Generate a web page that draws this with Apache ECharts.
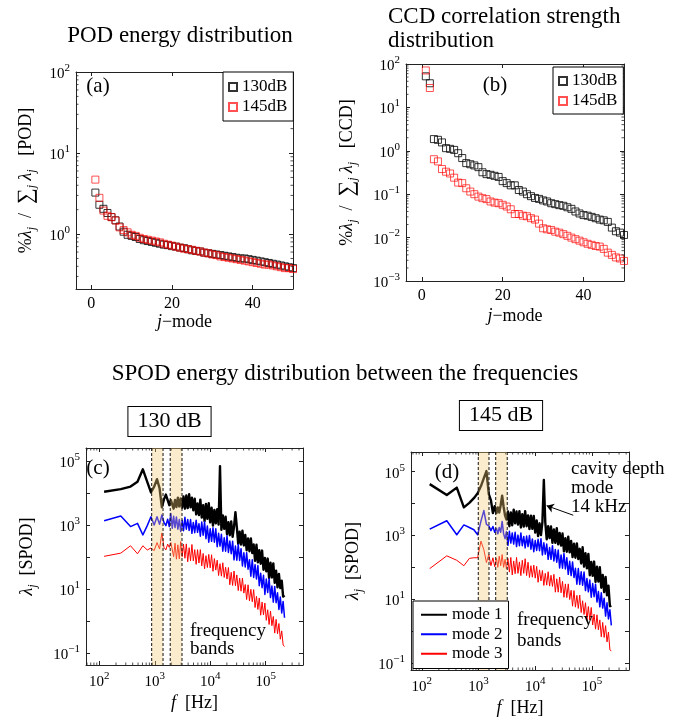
<!DOCTYPE html>
<html>
<head>
<meta charset="utf-8">
<script src="https://cdn.jsdelivr.net/npm/echarts@6/dist/echarts.min.js"></script>
<style>
html, body { margin: 0; padding: 0; background: #fff; }
#chart { width: 680px; height: 717px; }
</style>
</head>
<body>
<div id="chart"></div>
<script>
// ---------- (a) POD energy share per mode, % ----------
const jMode = [1, 2, 3, 4, 5, 6, 7, 8, 9, 10, 11, 12, 13, 14, 15, 16, 17, 18, 19, 20,
  21, 22, 23, 24, 25, 26, 27, 28, 29, 30, 31, 32, 33, 34, 35, 36, 37, 38, 39, 40,
  41, 42, 43, 44, 45, 46, 47, 48, 49, 50];
const pod130 = [3.25, 2.3, 2.05, 1.82, 1.62, 1.48, 1.24, 1.07, 0.98, 0.95,
  0.92, 0.87, 0.84, 0.82, 0.80, 0.78, 0.76, 0.74, 0.73, 0.71,
  0.70, 0.68, 0.67, 0.65, 0.63, 0.62, 0.61, 0.59, 0.58, 0.57,
  0.56, 0.55, 0.54, 0.53, 0.52, 0.51, 0.50, 0.50, 0.49, 0.48,
  0.47, 0.46, 0.45, 0.44, 0.43, 0.42, 0.41, 0.40, 0.39, 0.38];
const pod145 = [4.7, 2.8, 1.95, 1.68, 1.62, 1.47, 1.21, 1.12, 1.05, 0.98,
  0.95, 0.90, 0.87, 0.85, 0.83, 0.81, 0.79, 0.76, 0.74, 0.72,
  0.70, 0.68, 0.66, 0.65, 0.64, 0.62, 0.61, 0.59, 0.58, 0.56,
  0.55, 0.53, 0.52, 0.51, 0.50, 0.49, 0.48, 0.47, 0.46, 0.45,
  0.44, 0.43, 0.42, 0.42, 0.41, 0.40, 0.39, 0.38, 0.38, 0.37];

// ---------- (b) CCD correlation strength per mode, % ----------
const ccd130 = [52, 36, 1.86, 1.79, 1.56, 1.15, 1.11, 1.05, 0.88, 0.68,
  0.52, 0.49, 0.46, 0.42, 0.32, 0.29, 0.28, 0.265, 0.25, 0.20,
  0.18, 0.16, 0.16, 0.125, 0.115, 0.10, 0.09, 0.082, 0.078, 0.072,
  0.068, 0.062, 0.059, 0.056, 0.054, 0.050, 0.046, 0.040, 0.036, 0.033,
  0.032, 0.030, 0.028, 0.026, 0.025, 0.023, 0.017, 0.014, 0.013, 0.0115];
const ccd145 = [71, 28, 0.64, 0.57, 0.38, 0.33, 0.30, 0.24, 0.185, 0.18,
  0.137, 0.115, 0.10, 0.088, 0.081, 0.077, 0.068, 0.064, 0.062, 0.057,
  0.052, 0.045, 0.035, 0.035, 0.032, 0.031, 0.028, 0.026, 0.021, 0.0164,
  0.0155, 0.015, 0.0137, 0.013, 0.012, 0.011, 0.010, 0.0092, 0.0085, 0.0078,
  0.0072, 0.0068, 0.0064, 0.0062, 0.0055, 0.0045, 0.0040, 0.0035, 0.0033, 0.0029];

// ---------- (c)/(d) SPOD spectra ----------
// frequency bins [Hz]: low-frequency bins of each case, then the common upper range
const freqLow130 = [122, 244, 366, 488, 610, 732, 854, 976, 1098, 1220, 1342, 1464, 1586, 1708, 1830, 1952];
const freqLow145 = [138, 276, 414, 552, 690, 828, 966, 1104, 1242, 1380, 1518, 1656, 1794, 1932];
const freqHigh = [2070, 2190, 2320, 2460, 2610, 2770, 2940, 3110, 3300, 3500,
  3710, 3930, 4170, 4420, 4680, 4960, 5260, 5580, 5910, 6270,
  6640, 7040, 7460, 7910, 8390, 8890, 9420, 9990, 10590, 11220,
  11900, 12610, 13370, 14170, 15020, 15920, 16880, 17890, 18960, 20100,
  21310, 22590, 23940, 25380, 26900, 28510, 30220, 32040, 33960, 36000,
  38160, 40450, 42870, 45450, 48170, 51060, 54130, 57380, 60820, 64470,
  68340, 72440, 76780, 81390, 86270, 91450, 96940, 102800, 108900, 115500,
  122400, 129700, 137500, 145800, 154500, 163800, 173600, 184000, 195100, 206800,
  219200];

// eigenvalues listed as log10(lambda), low bins followed by the upper range
const spod130Mode1Low = [4.04, 4.12, 4.20, 4.35, 4.74, 4.35, 4.02, 4.20, 4.43, 4.15, 3.55, 3.80, 3.95, 4.00, 3.62, 3.78];
const spod130Mode1High = [3.82, 3.51, 3.78, 3.56, 3.85, 3.58, 3.83, 3.54, 3.89, 3.51,
  3.92, 3.53, 3.96, 3.55, 3.85, 3.46, 3.82, 3.33, 3.67, 3.31,
  3.79, 3.23, 3.62, 3.12, 3.66, 3.19, 3.68, 3.08, 3.54, 2.98,
  3.47, 3.05, 3.49, 3.01, 4.84, 2.85, 3.30, 2.88, 3.26, 2.71,
  3.09, 2.68, 3.11, 2.63, 2.95, 3.40, 2.93, 2.41, 2.79, 2.39,
  2.82, 2.36, 2.69, 2.21, 2.58, 2.18, 2.58, 2.12, 2.39, 1.88,
  2.38, 1.83, 2.21, 1.79, 2.20, 1.60, 1.97, 1.55, 1.95, 1.34,
  1.82, 1.36, 1.80, 1.19, 1.57, 1.05, 1.47, 1.03, 1.26, 0.76,
  0.80];
const spod130Mode2Low = [3.13, 3.28, 2.95, 3.05, 2.69, 2.98, 3.26, 3.00, 3.26, 3.02, 3.31, 3.08, 2.98, 3.18, 2.95, 3.36];
const spod130Mode2High = [2.90, 3.27, 2.92, 3.25, 2.87, 3.17, 2.80, 3.15, 2.82, 3.24,
  2.87, 3.17, 2.83, 3.17, 2.74, 3.08, 2.76, 3.15, 2.77, 3.04,
  2.65, 3.09, 2.68, 3.10, 2.57, 2.97, 2.46, 2.88, 2.49, 2.91,
  2.46, 2.88, 2.32, 2.74, 2.34, 2.71, 2.18, 2.60, 2.18, 2.66,
  2.14, 2.50, 2.10, 2.49, 1.91, 2.34, 1.90, 2.39, 1.89, 2.26,
  1.72, 2.13, 1.69, 2.13, 1.62, 1.91, 1.40, 1.91, 1.36, 1.76,
  1.31, 1.73, 1.10, 1.49, 1.04, 1.43, 0.83, 1.31, 0.89, 1.32,
  0.73, 1.09, 0.59, 1.08, 0.57, 0.88, 0.36, 0.75, 0.25, 0.61,
  0.10];
const spod130Mode3Low = [2.02, 2.12, 2.35, 2.10, 2.35, 2.22, 2.28, 2.20, 2.45, 2.25, 2.75, 2.30, 2.22, 2.40, 2.30, 2.45];
const spod130Mode3High = [2.51, 2.01, 2.43, 1.93, 2.38, 1.94, 2.48, 2.01, 2.40, 1.96,
  2.41, 1.85, 2.29, 1.88, 2.39, 1.88, 2.23, 1.77, 2.23, 1.81,
  2.23, 1.72, 2.11, 1.63, 2.04, 1.67, 2.08, 1.66, 2.07, 1.55,
  1.95, 1.59, 1.90, 1.42, 1.79, 1.40, 1.82, 1.36, 1.68, 1.31,
  1.67, 1.13, 1.52, 1.11, 1.56, 1.10, 1.44, 0.95, 1.34, 0.93,
  1.34, 0.87, 1.14, 0.67, 1.13, 0.63, 0.99, 0.60, 0.98, 0.42,
  0.77, 0.36, 0.72, 0.18, 0.59, 0.19, 0.56, 0.02, 0.35, -0.11,
  0.31, -0.15, 0.14, -0.38, 0.05, -0.40, -0.08, -0.57, -0.31, -0.75,
  -0.80];

const spod145Mode1Low = [4.61, 4.27, 4.50, 3.88, 4.02, 4.17, 4.32, 4.55, 4.80, 5.02, 4.30, 4.10, 3.70, 3.92];
const spod145Mode1High = [3.70, 3.88, 3.72, 3.95, 4.25, 3.90, 3.62, 3.50, 3.75, 3.29,
  3.72, 3.32, 3.81, 3.38, 3.75, 3.34, 3.76, 3.25, 3.67, 3.28,
  3.76, 3.29, 3.63, 3.20, 3.62, 3.21, 3.61, 3.09, 3.47, 2.98,
  3.38, 3.01, 3.42, 4.74, 3.41, 2.88, 3.29, 2.92, 3.28, 2.77,
  3.19, 2.77, 3.23, 2.72, 3.08, 2.68, 3.06, 2.50, 2.91, 2.49,
  2.96, 2.47, 2.83, 2.32, 2.74, 2.30, 2.75, 2.26, 2.58, 2.12,
  2.63, 2.02, 2.44, 1.97, 2.42, 1.75, 2.17, 1.73, 2.18, 1.54,
  2.02, 1.55, 2.00, 1.36, 1.76, 1.22, 1.70, 1.12, 1.42, 0.78,
  0.80];
const spod145Mode2Low = [3.20, 3.46, 3.02, 3.33, 3.25, 3.18, 3.02, 3.45, 3.78, 3.35, 3.30, 3.15, 3.28, 3.10];
const spod145Mode2High = [3.22, 3.05, 3.25, 3.10, 3.44, 3.05, 2.90, 3.12, 2.69, 3.13,
  2.76, 3.08, 2.73, 3.10, 2.65, 3.01, 2.68, 3.08, 2.68, 2.97,
  2.61, 2.98, 2.65, 3.00, 2.57, 2.89, 2.49, 2.84, 2.53, 2.88,
  2.52, 2.90, 2.39, 2.77, 2.41, 2.73, 2.25, 2.62, 2.25, 2.68,
  2.20, 2.56, 2.16, 2.54, 1.98, 2.39, 1.97, 2.43, 1.95, 2.30,
  1.78, 2.19, 1.74, 2.17, 1.68, 1.97, 1.47, 1.96, 1.46, 1.86,
  1.44, 1.85, 1.27, 1.65, 1.23, 1.60, 1.06, 1.49, 1.08, 1.47,
  0.91, 1.24, 0.76, 1.20, 0.72, 1.03, 0.47, 0.89, 0.38, 0.67,
  0.18];
const spod145Mode3Low = [1.96, 2.36, 2.22, 2.05, 2.28, 2.30, 2.30, 2.82, 2.55, 2.15, 2.40, 2.05, 2.30, 2.02];
const spod145Mode3High = [2.28, 2.00, 2.35, 2.05, 2.40, 2.00, 2.25, 1.95, 2.28, 1.85,
  2.31, 1.76, 2.20, 1.80, 2.31, 1.81, 2.17, 1.74, 2.22, 1.81,
  2.27, 1.74, 2.16, 1.68, 2.05, 1.69, 2.07, 1.66, 2.03, 1.53,
  1.92, 1.57, 1.90, 1.43, 1.81, 1.44, 1.86, 1.41, 1.75, 1.40,
  1.78, 1.22, 1.64, 1.22, 1.69, 1.20, 1.56, 1.06, 1.48, 1.05,
  1.48, 0.99, 1.28, 0.78, 1.27, 0.75, 1.12, 0.71, 1.13, 0.58,
  0.95, 0.52, 0.89, 0.34, 0.77, 0.34, 0.74, 0.19, 0.53, 0.06,
  0.51, 0.04, 0.35, -0.18, 0.27, -0.20, 0.17, -0.34, -0.03, -0.59,
  -0.62];

// frequency bands [Hz] highlighted in the spectra
const bands130 = [[880, 1410], [1900, 3100]];
const bands145 = [[990, 1530], [2010, 3210]];
// arrow pointing at the cavity depth mode peak: [tail, head] as [f, lambda]
const cavityArrow = [[46800, 4300], [15900, 8600]];

// minor tick values of the logarithmic axes
const minorTicksPOD = [0.3, 0.4, 0.5, 0.6, 0.7, 0.8, 0.9, 2, 3, 4, 5, 6, 7, 8, 9, 20, 30, 40, 50, 60, 70, 80, 90];
const minorTicksCCD = [0.002, 0.003, 0.004, 0.005, 0.006, 0.007, 0.008, 0.009,
  0.02, 0.03, 0.04, 0.05, 0.06, 0.07, 0.08, 0.09,
  0.2, 0.3, 0.4, 0.5, 0.6, 0.7, 0.8, 0.9,
  2, 3, 4, 5, 6, 7, 8, 9, 20, 30, 40, 50, 60, 70, 80, 90];
const minorTicksFreq = [60, 70, 80, 90, 200, 300, 400, 500, 600, 700, 800, 900,
  2000, 3000, 4000, 5000, 6000, 7000, 8000, 9000,
  20000, 30000, 40000, 50000, 60000, 70000, 80000, 90000,
  200000, 300000, 400000];

// ---------- helpers ----------
const FONT = 'Liberation Serif';
const AXIS_COLOR = '#222';

function pairs(xs, ys) { return xs.map((x, i) => [x, ys[i]]); }
function spectrum(freq, logValues) { return freq.map((f, i) => [f, Math.pow(10, logValues[i])]); }

const labelRich = {
  b: { fontFamily: FONT, fontSize: 15, color: '#000', lineHeight: 19, verticalAlign: 'bottom' },
  s: { fontFamily: FONT, fontSize: 11, color: '#000', lineHeight: 11, verticalAlign: 'top' }
};
const nameRich = {
  n: { fontFamily: FONT, fontSize: 18, color: '#000', lineHeight: 24, verticalAlign: 'middle' },
  i: { fontFamily: FONT, fontSize: 18, fontStyle: 'italic', color: '#000', lineHeight: 24, verticalAlign: 'middle' },
  big: { fontFamily: FONT, fontSize: 22, color: '#000', lineHeight: 24, verticalAlign: 'middle' },
  sub: { fontFamily: FONT, fontSize: 12, fontStyle: 'italic', color: '#000', lineHeight: 12, verticalAlign: 'bottom', padding: [7, 0, 0, 0] }
};

function decadeLabel(onlyOdd) {
  return function (v) {
    const e = Math.log10(v);
    const r = Math.round(e);
    if (Math.abs(e - r) > 1e-6) return '';
    if (onlyOdd && Math.abs(r % 2) !== 1) return '';
    return '{b|10}{s|' + (r < 0 ? '\u2212' + (-r) : r) + '}';
  };
}

const tickStyle = { inside: true, length: 4, lineStyle: { color: AXIS_COLOR, width: 1 } };
const lineAxis = { show: true, onZero: false, lineStyle: { color: AXIS_COLOR, width: 1 } };

function xAxes(grid, type, min, max, name, nameGap) {
  const base = { gridIndex: grid, type: type, min: min, max: max, splitLine: { show: false },
    axisLine: lineAxis, axisTick: tickStyle };
  if (type === 'value') base.splitNumber = 3;
  if (type === 'log') base.logBase = 10;
  const bottom = Object.assign({}, base, {
    position: 'bottom',
    name: name, nameLocation: 'middle', nameGap: nameGap,
    nameTextStyle: { rich: nameRich },
    axisLabel: type === 'log'
      ? { margin: 6, formatter: decadeLabel(false), rich: labelRich }
      : { margin: 7, fontFamily: FONT, fontSize: 16, color: '#000', formatter: v => (Math.abs(v % 20) < 1e-9 ? String(v) : '') }
  });
  const top = Object.assign({}, base, { position: 'top', axisLabel: { show: false } });
  return [bottom, top];
}

function yAxes(grid, min, max, name, nameGap, onlyOdd) {
  const base = { gridIndex: grid, type: 'log', logBase: 10, min: min, max: max, splitLine: { show: false },
    axisLine: lineAxis, axisTick: tickStyle };
  const left = Object.assign({}, base, {
    position: 'left',
    name: name, nameLocation: 'middle', nameGap: nameGap, nameRotate: 90,
    nameTextStyle: { rich: nameRich },
    axisLabel: { margin: 6, formatter: decadeLabel(onlyOdd), rich: labelRich }
  });
  const right = Object.assign({}, base, { position: 'right', axisLabel: { show: false } });
  return [left, right];
}

// short ticks drawn on both opposite edges of a grid at given axis values
function minorTicks(dir) {
  return function (params, api) {
    const cs = params.coordSys;
    const p = api.coord([api.value(0), api.value(1)]);
    const L = 2.5;
    const st = { stroke: AXIS_COLOR, lineWidth: 0.8 };
    if (dir === 'y') {
      const y = p[1];
      if (y < cs.y - 0.5 || y > cs.y + cs.height + 0.5) return null;
      return { type: 'group', children: [
        { type: 'line', shape: { x1: cs.x, y1: y, x2: cs.x + L, y2: y }, style: st },
        { type: 'line', shape: { x1: cs.x + cs.width - L, y1: y, x2: cs.x + cs.width, y2: y }, style: st }
      ] };
    }
    const x = p[0];
    if (x < cs.x - 0.5 || x > cs.x + cs.width + 0.5) return null;
    return { type: 'group', children: [
      { type: 'line', shape: { x1: x, y1: cs.y + cs.height, x2: x, y2: cs.y + cs.height - L }, style: st },
      { type: 'line', shape: { x1: x, y1: cs.y, x2: x, y2: cs.y + L }, style: st }
    ] };
  };
}

// shaded frequency band with dashed borders over the full grid height
function bandItem(params, api) {
  const cs = params.coordSys;
  const x1 = api.coord([api.value(0), 1])[0];
  const x2 = api.coord([api.value(1), 1])[0];
  const dash = { stroke: '#111', lineWidth: 1, lineDash: [3, 2] };
  return { type: 'group', children: [
    { type: 'rect', shape: { x: x1, y: cs.y, width: x2 - x1, height: cs.height }, style: { fill: 'rgba(243,202,120,0.36)' } },
    { type: 'line', shape: { x1: x1, y1: cs.y, x2: x1, y2: cs.y + cs.height }, style: dash },
    { type: 'line', shape: { x1: x2, y1: cs.y, x2: x2, y2: cs.y + cs.height }, style: dash }
  ] };
}

function squares(name, color, xi, yi, data) {
  return { type: 'scatter', name: name, xAxisIndex: xi, yAxisIndex: yi, data: data,
    symbol: 'rect', symbolSize: 7, z: 3,
    itemStyle: { color: 'rgba(0,0,0,0)', borderColor: color, borderWidth: 1 } };
}

function specLine(name, color, width, xi, yi, data, extra) {
  return Object.assign({ type: 'line', name: name, xAxisIndex: xi, yAxisIndex: yi, data: data,
    symbol: 'none', showSymbol: false, z: 2, color: color,
    lineStyle: { color: color, width: width, join: 'round' } }, extra || {});
}

const freq130 = freqLow130.concat(freqHigh);
const freq145 = freqLow145.concat(freqHigh);

const xNameJ = '{i|j}{n|\u2212mode}';
const xNameF = '{i|f}{n|  [Hz]}';
const yNamePOD = '{n|%}{i|\u03bb}{sub|j}{n|  /  }{big|\u2211}{sub|j}{n| }{i|\u03bb}{sub|j}{n|   [POD]}';
const yNameCCD = '{n|%}{i|\u03bb}{sub|j}{n|  /  }{big|\u2211}{sub|j}{n| }{i|\u03bb}{sub|j}{n|   [CCD]}';
const yNameSPOD = '{i|\u03bb}{sub|j}{n|  [SPOD]}';

const legendBox = { orient: 'vertical', z: 10, borderColor: '#000', borderWidth: 1, backgroundColor: '#fff' };

const textStyle = (size, align, vAlign, extra) => Object.assign({
  font: size + 'px "Liberation Serif"', fill: '#000',
  align: align, verticalAlign: vAlign, textAlign: align, textVerticalAlign: vAlign
}, extra || {});

const option = {
  animation: false,
  backgroundColor: '#fff',
  tooltip: { show: false },
  grid: [
    { left: 76, top: 72, width: 217, height: 217, outerBoundsMode: 'none' },
    { left: 406, top: 64, width: 218, height: 217, outerBoundsMode: 'none' },
    { left: 86, top: 448, width: 217, height: 217, outerBoundsMode: 'none' },
    { left: 411, top: 452, width: 218, height: 218, outerBoundsMode: 'none' }
  ],
  xAxis: [].concat(
    xAxes(0, 'value', -3.8, 50, xNameJ, 21),
    xAxes(1, 'value', -3.9, 50, xNameJ, 23),
    xAxes(2, 'log', 57.5, 472000, xNameF, 26),
    xAxes(3, 'log', 64.6, 449000, xNameF, 26)
  ),
  yAxis: [].concat(
    yAxes(0, 0.21, 100, yNamePOD, 38, false),
    yAxes(1, 0.001, 100, yNameCCD, 47, false),
    yAxes(2, 0.042, 255000, yNameSPOD, 47, true),
    yAxes(3, 0.060, 415000, yNameSPOD, 46, true)
  ),
  legend: [
    Object.assign({}, legendBox, { data: ['130dB', '145dB'], left: 223, top: 72,
      itemWidth: 8, itemHeight: 8, itemGap: 2, padding: [6, 6, 5, 5],
      textStyle: { fontFamily: FONT, fontSize: 17, lineHeight: 18, color: '#000' } }),
    Object.assign({}, legendBox, { data: ['130dB', '145dB'], left: 553, top: 67,
      itemWidth: 8, itemHeight: 8, itemGap: 2, padding: [5, 6, 4, 5],
      textStyle: { fontFamily: FONT, fontSize: 17, lineHeight: 18, color: '#000' } }),
    Object.assign({}, legendBox, { data: ['mode 1', 'mode 2', 'mode 3'], left: 413, top: 601,
      itemWidth: 26, itemHeight: 4, itemGap: 0, padding: [4, 6, 5, 7],
      itemStyle: { opacity: 0 },
      textStyle: { fontFamily: FONT, fontSize: 17, lineHeight: 19.5, color: '#000' } })
  ],
  series: [
    squares('130dB', '#000', 0, 0, pairs(jMode, pod130)),
    squares('145dB', 'rgba(255,0,0,0.85)', 0, 0, pairs(jMode, pod145)),
    squares('130dB', '#000', 2, 2, pairs(jMode, ccd130)),
    squares('145dB', 'rgba(255,0,0,0.85)', 2, 2, pairs(jMode, ccd145)),

    specLine('mode 1', '#000', 2.4, 4, 4, spectrum(freq130, spod130Mode1Low.concat(spod130Mode1High))),
    specLine('mode 2', '#0000ff', 1.5, 4, 4, spectrum(freq130, spod130Mode2Low.concat(spod130Mode2High))),
    specLine('mode 3', '#ff0000', 1.0, 4, 4, spectrum(freq130, spod130Mode3Low.concat(spod130Mode3High))),

    specLine('mode 1', '#000', 2.4, 6, 6, spectrum(freq145, spod145Mode1Low.concat(spod145Mode1High)), {
      markLine: {
        silent: true, symbol: ['none', 'arrow'], symbolSize: 7, animation: false,
        label: { show: false },
        lineStyle: { color: '#000', width: 1, type: 'solid' },
        emphasis: { disabled: true },
        data: [[{ coord: cavityArrow[0] }, { coord: cavityArrow[1] }]]
      }
    }),
    specLine('mode 2', '#0000ff', 1.5, 6, 6, spectrum(freq145, spod145Mode2Low.concat(spod145Mode2High))),
    specLine('mode 3', '#ff0000', 1.0, 6, 6, spectrum(freq145, spod145Mode3Low.concat(spod145Mode3High))),

    { type: 'custom', xAxisIndex: 4, yAxisIndex: 4, z: 5, silent: true, renderItem: bandItem, data: bands130 },
    { type: 'custom', xAxisIndex: 6, yAxisIndex: 6, z: 5, silent: true, renderItem: bandItem, data: bands145 },

    { type: 'custom', xAxisIndex: 0, yAxisIndex: 0, z: 4, silent: true, renderItem: minorTicks('y'), data: minorTicksPOD.map(v => [10, v]) },
    { type: 'custom', xAxisIndex: 2, yAxisIndex: 2, z: 4, silent: true, renderItem: minorTicks('y'), data: minorTicksCCD.map(v => [10, v]) },
    { type: 'custom', xAxisIndex: 4, yAxisIndex: 4, z: 4, silent: true, renderItem: minorTicks('x'), data: minorTicksFreq.map(v => [v, 1]) },
    { type: 'custom', xAxisIndex: 6, yAxisIndex: 6, z: 4, silent: true, renderItem: minorTicks('x'), data: minorTicksFreq.map(v => [v, 1]) }
  ],
  graphic: [
    { type: 'text', x: 180, y: 36, z: 20, style: textStyle(23, 'center', 'middle', { text: 'POD energy distribution' }) },
    { type: 'text', x: 388, y: 5, z: 20, style: textStyle(23, 'left', 'top', { text: 'CCD correlation strength\ndistribution', lineHeight: 24 }) },
    { type: 'text', x: 345, y: 374, z: 20, style: textStyle(23, 'center', 'middle', { text: 'SPOD energy distribution between the frequencies' }) },
    { type: 'text', x: 169.5, y: 421.5, z: 20, style: textStyle(22, 'center', 'middle', { text: '130 dB', padding: [4, 9, 3, 9], borderColor: '#000', borderWidth: 1, backgroundColor: '#fff' }) },
    { type: 'text', x: 501, y: 415.5, z: 20, style: textStyle(22, 'center', 'middle', { text: '145 dB', padding: [4, 9, 3, 9], borderColor: '#000', borderWidth: 1, backgroundColor: '#fff' }) },
    { type: 'text', x: 98, y: 86, z: 20, style: textStyle(21, 'center', 'middle', { text: '(a)' }) },
    { type: 'text', x: 495, y: 85, z: 20, style: textStyle(21, 'center', 'middle', { text: '(b)' }) },
    { type: 'text', x: 98, y: 468, z: 20, style: textStyle(21, 'center', 'middle', { text: '(c)' }) },
    { type: 'text', x: 447, y: 472, z: 20, style: textStyle(21, 'center', 'middle', { text: '(d)' }) },
    { type: 'text', x: 190, y: 621.5, z: 20, style: textStyle(19, 'left', 'top', { text: 'frequency\nbands', lineHeight: 18.5 }) },
    { type: 'text', x: 517, y: 609.5, z: 20, style: textStyle(19, 'left', 'top', { text: 'frequency\nbands', lineHeight: 20.7 }) },
    { type: 'text', x: 571, y: 459.5, z: 20, style: textStyle(19, 'left', 'top', { text: 'cavity depth\nmode\n14 kHz', lineHeight: 19 }) }
  ]
};

const chart = echarts.init(document.getElementById('chart'), null, { renderer: 'canvas' });
chart.setOption(option);
</script>
</body>
</html>
